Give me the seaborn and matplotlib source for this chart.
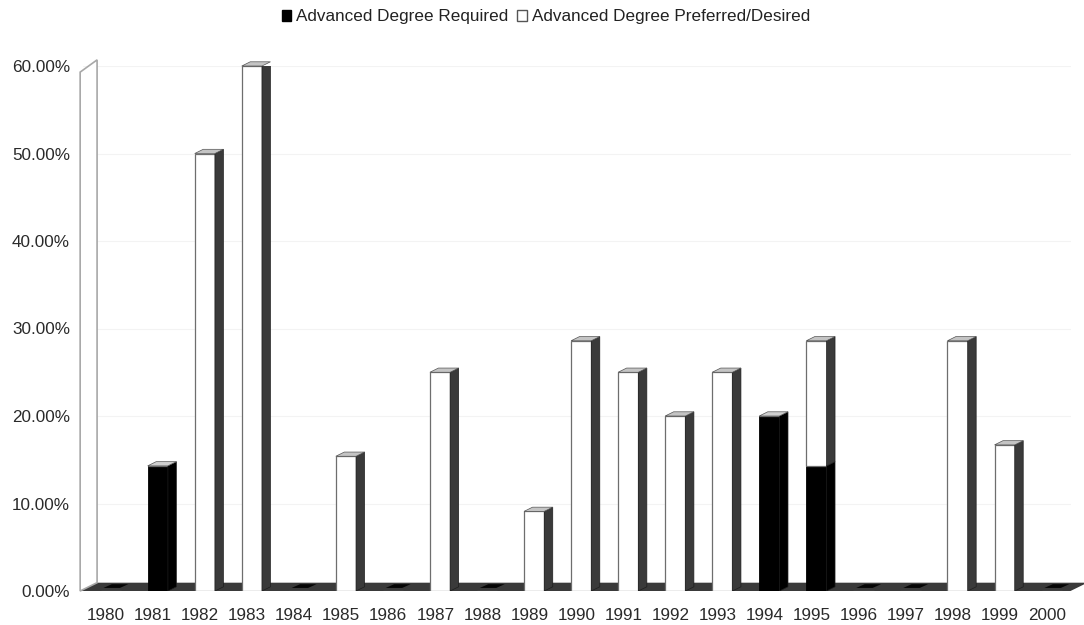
import matplotlib
matplotlib.use("Agg")
import matplotlib.pyplot as plt
from matplotlib.patches import Polygon, Patch
import seaborn as sns
import numpy as np

years = [str(y) for y in range(1980, 2001)]
required = [0, 0.143, 0, 0, 0, 0, 0, 0, 0, 0, 0, 0, 0, 0, 0.20, 0.143, 0, 0, 0, 0, 0]
preferred = [0, 0, 0.50, 0.60, 0, 0.154, 0, 0.25, 0, 0.091, 0.286, 0.25, 0.20, 0.25, 0, 0.143, 0, 0, 0.286, 0.167, 0]
labels = ["Advanced Degree Required", "Advanced Degree Preferred/Desired"]
yticks = [0, 0.1, 0.2, 0.3, 0.4, 0.5, 0.6]

sns.set_theme(style="white")
plt.rcParams['font.family'] = ['Liberation Sans', 'DejaVu Sans']

W, H = 1084, 625
fig = plt.figure(figsize=(W / 100, H / 100), dpi=100)
ax = fig.add_axes([82.5 / W, 1 - 591 / H, 988 / W, (591 - 66) / H])

bw = 0.43
sns.barplot(x=years, y=required, order=years, color="black", edgecolor="black",
            linewidth=0.6, width=bw, errorbar=None, ax=ax, zorder=3, saturation=1)
n_req = len(ax.patches)
sns.barplot(x=years, y=preferred, order=years, bottom=required, color="white",
            edgecolor="#6e6e6e", linewidth=0.9, width=bw, errorbar=None, ax=ax,
            zorder=3, saturation=1)

# shift the bars slightly right of the tick, like the 3D original
shift = 0.1
for p in ax.patches:
    p.set_x(p.get_x() + shift)

ax.set_xlim(-0.5, 20.5)
ax.set_ylim(0, 0.6)
ax.set_yticks(yticks)
ax.set_yticklabels([f"{t*100:.2f}%" for t in yticks], fontsize=12.3, color="#2a2a2a")
ax.tick_params(axis="x", labelsize=12.3, colors="#2a2a2a", pad=12, length=0)
ax.tick_params(axis="y", pad=9, length=0)
for s in ax.spines.values():
    s.set_visible(False)
ax.yaxis.grid(True, color="#f3f3f3", linewidth=0.8)
ax.set_axisbelow(True)

dx = 0.18
dy = 0.0048
fdx = 0.36
fdy = 0.0095

# floor
floor = Polygon([(-0.55, 0.0), (20.5, 0.0), (20.5 + fdx, fdy), (-0.55 + fdx, fdy)],
                closed=True, facecolor="#3a3a3a", edgecolor="none", zorder=2, clip_on=False)
ax.add_patch(floor)

# left wall
wall = Polygon([(-0.55, 0.0), (-0.55, 0.593), (-0.55 + fdx, 0.607), (-0.55 + fdx, fdy)],
               closed=True, facecolor="white", edgecolor="#a8a8a8", linewidth=1.2,
               zorder=2, clip_on=False)
ax.add_patch(wall)

# 3D faces from the bar patches
req_patches = ax.patches[:n_req]
pref_patches = ax.patches[n_req:n_req + len(years)]
for pr, pp in zip(req_patches, pref_patches):
    x0 = pr.get_x()
    x1 = x0 + pr.get_width()
    hr = pr.get_height()
    hp = pp.get_height()
    if hr + hp <= 0:
        dash = Polygon([(x0 + 0.06, 0.0035), (x1 - 0.02, 0.0035), (x1 - 0.02 + dx, 0.0078),
                        (x0 + 0.06 + dx, 0.0078)], closed=True,
                       facecolor="#050505", edgecolor="none", zorder=4)
        ax.add_patch(dash)
        continue
    segs = []
    if hr > 0:
        segs.append((0, hr, "#000000"))
    if hp > 0:
        segs.append((hr, hr + hp, "#3a3a3a"))
    for (yb, yt, c) in segs:
        side = Polygon([(x1, yb), (x1 + dx, yb + dy), (x1 + dx, yt + dy), (x1, yt)],
                       closed=True, facecolor=c, edgecolor="#1e1e1e", linewidth=0.5, zorder=3.5)
        ax.add_patch(side)
    top = hr + hp
    topc = "#c4c4c4" if hp > 0 else "#cfcfcf"
    tp = Polygon([(x0, top), (x0 + dx, top + dy), (x1 + dx, top + dy), (x1, top)],
                 closed=True, facecolor=topc, edgecolor="#555555", linewidth=0.5, zorder=3.6,
                 clip_on=False)
    ax.add_patch(tp)

handles = [Patch(facecolor="black", edgecolor="black"),
           Patch(facecolor="white", edgecolor="#555555")]
fig.legend(handles, labels, loc="center", bbox_to_anchor=(546 / W, 1 - 17 / H),
           ncol=2, frameon=False, fontsize=12.3, handlelength=0.55, handleheight=0.55,
           handletextpad=0.3, columnspacing=0.5, labelcolor="#222222")

fig.savefig("out.png", dpi=100, facecolor="white")
